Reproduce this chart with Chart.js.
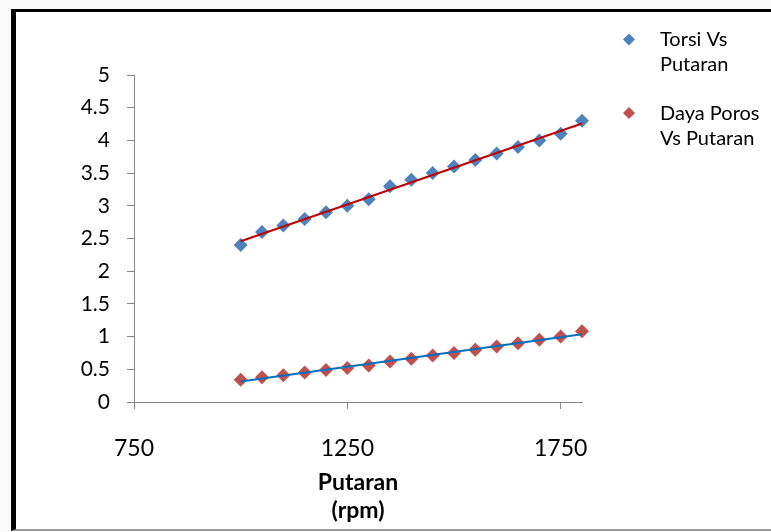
<!DOCTYPE html>
<html>
<head>
<meta charset="utf-8">
<script src="https://cdn.jsdelivr.net/npm/chart.js@4/dist/chart.umd.min.js"></script>
<style>
  html, body { margin: 0; padding: 0; background: #f9f9f9; overflow: hidden; }
  #frame {
    position: absolute; left: 11px; top: 9px; width: 800px; height: 517px;
    background: #ffffff;
    border-left: 5px solid #000; border-top: 3px solid #000; border-bottom: 2px solid #9a9a9a;
  }
  #chart { position: absolute; left: 0; top: 0; }
</style>
</head>
<body>
<div id="frame"></div>
<canvas id="chart" width="771" height="532"></canvas>
<script>
// Engine speed (rpm)
const putaran = [1000, 1050, 1100, 1150, 1200, 1250, 1300, 1350, 1400, 1450, 1500, 1550, 1600, 1650, 1700, 1750, 1800];
// Torque
const torsi = [2.4, 2.6, 2.7, 2.8, 2.9, 3.0, 3.1, 3.3, 3.4, 3.5, 3.6, 3.7, 3.8, 3.9, 4.0, 4.1, 4.3];
// Shaft power
const dayaPoros = [0.34, 0.38, 0.41, 0.45, 0.49, 0.52, 0.56, 0.62, 0.66, 0.71, 0.75, 0.80, 0.85, 0.90, 0.95, 1.00, 1.08];

const seriesLabels = [['Torsi Vs', 'Putaran'], ['Daya Poros', 'Vs Putaran']];
const xTickValues = [750, 1250, 1750];
const xTitle = ['Putaran', '(rpm)'];

const BLUE = '#4F81BD', RED = '#C0504D';
const AXIS = '#868686';
const FONT = 'Lato, "Open Sans", sans-serif';

// Least-squares line through a series, returned as its two end points
function trend(xs, ys) {
  const n = xs.length;
  const mx = xs.reduce((a, b) => a + b, 0) / n;
  const my = ys.reduce((a, b) => a + b, 0) / n;
  let sxy = 0, sxx = 0;
  for (let i = 0; i < n; i++) { sxy += (xs[i] - mx) * (ys[i] - my); sxx += (xs[i] - mx) ** 2; }
  const b = sxy / sxx, a = my - b * mx;
  const x0 = Math.min(...xs), x1 = Math.max(...xs);
  return [{ x: x0, y: a + b * x0 }, { x: x1, y: a + b * x1 }];
}

const pts = ys => putaran.map((x, i) => ({ x, y: ys[i] }));

// Multi-line legend at the right of the plot
const sideLegend = {
  id: 'sideLegend',
  afterDraw(chart) {
    const ctx = chart.ctx;
    const items = [
      { color: BLUE, lines: seriesLabels[0], cy: 39.5, base: 46 },
      { color: RED, lines: seriesLabels[1], cy: 113, base: 120 }
    ];
    ctx.save();
    ctx.font = '20px ' + FONT;
    ctx.textAlign = 'left';
    ctx.textBaseline = 'alphabetic';
    items.forEach(it => {
      const cx = 629, r = 6;
      ctx.beginPath();
      ctx.moveTo(cx, it.cy - r);
      ctx.lineTo(cx + r, it.cy);
      ctx.lineTo(cx, it.cy + r);
      ctx.lineTo(cx - r, it.cy);
      ctx.closePath();
      ctx.fillStyle = it.color;
      ctx.fill();
      ctx.fillStyle = '#000';
      it.lines.forEach((t, k) => ctx.fillText(t, 660, it.base + k * 24.5));
    });
    ctx.restore();
  }
};

const plain = v => String(v);

new Chart(document.getElementById('chart'), {
  type: 'scatter',
  data: {
    datasets: [
      {
        label: 'Trend Torsi', type: 'line', data: trend(putaran, torsi), order: 0, clip: false,
        borderColor: '#C00000', borderWidth: 2, pointRadius: 0, fill: false
      },
      {
        label: 'Trend Daya Poros', type: 'line', data: trend(putaran, dayaPoros), order: 0, clip: false,
        borderColor: '#0070C0', borderWidth: 2, pointRadius: 0, fill: false
      },
      {
        label: seriesLabels[0].join(' '), data: pts(torsi), order: 1, clip: false,
        pointStyle: 'rectRot', pointRadius: 7, backgroundColor: BLUE, borderColor: BLUE, borderWidth: 0
      },
      {
        label: seriesLabels[1].join(' '), data: pts(dayaPoros), order: 1, clip: false,
        pointStyle: 'rectRot', pointRadius: 7, backgroundColor: RED, borderColor: RED, borderWidth: 0
      }
    ]
  },
  options: {
    responsive: false,
    animation: false,
    events: [],
    layout: { padding: { left: 0, top: 75, right: 189, bottom: 0 } },
    plugins: { legend: { display: false }, tooltip: { enabled: false } },
    scales: {
      x: {
        type: 'linear', min: 750, max: 1800,
        afterBuildTicks: s => { s.ticks = xTickValues.map(v => ({ value: v })); },
        afterFit: s => { s.height = 130; },
        border: { color: AXIS, width: 1 },
        grid: { drawOnChartArea: false, drawTicks: true, tickLength: 7, color: AXIS },
        ticks: { color: '#000', font: { family: FONT, size: 23 }, padding: 26, maxRotation: 0, callback: plain },
        title: {
          display: true, text: xTitle, color: '#000',
          font: { family: FONT, size: 23, weight: 'bold', lineHeight: '28px' },
          padding: { top: 0, bottom: 7 }
        }
      },
      y: {
        min: 0, max: 5,
        afterFit: s => { s.width = 134; },
        border: { color: AXIS, width: 1 },
        grid: { drawOnChartArea: false, drawTicks: true, tickLength: 7, color: AXIS },
        ticks: { stepSize: 0.5, color: '#000', font: { family: FONT, size: 21 }, padding: 17, callback: plain }
      }
    }
  },
  plugins: [sideLegend]
});
</script>
</body>
</html>
